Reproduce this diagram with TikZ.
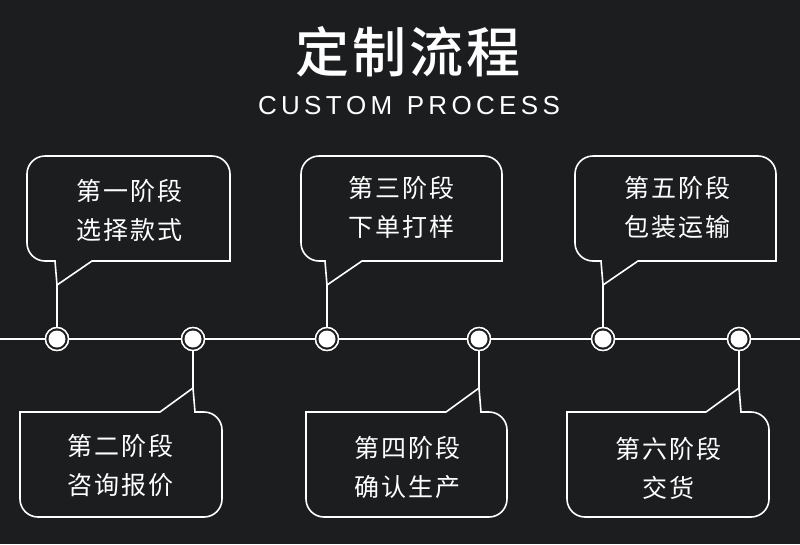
\documentclass[tikz,border=0pt]{standalone}
\usepackage{fontspec}
\setmainfont{Liberation Sans}
\newfontfamily\cjk{Noto Sans CJK SC}
\newfontfamily\cjkb{Noto Sans CJK SC Medium}
\definecolor{bg}{HTML}{1C1D1F}
\tikzset{ln/.style={draw=white,line width=1.6pt},
 lab/.style={text=white,font=\cjk\fontsize{25}{25}\selectfont,align=center},
 dot/.style={circle,draw=white,line width=1.4pt,fill=bg,minimum size=23pt,inner sep=0pt,
   path picture={\fill[white](path picture bounding box.center) circle (8.5pt);}}}
\newcommand{\topcall}[4]{%
 \draw[ln] (#1,285) -- (#1+35,261) -- (#3,261) [rounded corners=18pt] -- (#3,156) -- (#2,156) -- (#2,261) [sharp corners]-- (#1-2,261) -- (#1,285) -- (#4);}
\newcommand{\botcall}[4]{%
 \draw[ln] (#1,388) -- (#1-33,412) -- (#2,412) [rounded corners=18pt] -- (#2,517) -- (#3,517) -- (#3,412) [sharp corners]-- (#1+2,412) -- (#1,388) -- (#4);}
\begin{document}
\begin{tikzpicture}[x=1pt,y=-1pt]
\fill[bg] (0,0) rectangle (800,544);
\useasboundingbox (0,0) rectangle (800,544);
\node[text=white,font=\cjkb\fontsize{54}{54}\selectfont] (title) at (408,52) {定\hspace{3pt}制\hspace{3pt}流\hspace{3pt}程};
\node[text=white,font=\fontsize{26}{26}\selectfont] (sub) at (409,106) {C\,U\,S\,T\,O\,M\ \ P\,R\,O\,C\,E\,S\,S};
\draw[ln] (0,339) -- (800,339);
\node[dot] (c1) at (57,339) {};
\node[dot] (c2) at (193,339) {};
\node[dot] (c3) at (327,339) {};
\node[dot] (c4) at (479,339) {};
\node[dot] (c5) at (603,339) {};
\node[dot] (c6) at (739,339) {};
\topcall{57}{27}{230}{c1}
\topcall{327}{301}{502}{c3}
\topcall{603}{575}{776}{c5}
\botcall{193}{20}{222}{c2}
\botcall{479}{306}{507}{c4}
\botcall{739}{567}{769}{c6}
\node[dot] at (57,339) {};\node[dot] at (193,339) {};\node[dot] at (327,339) {};
\node[dot] at (479,339) {};\node[dot] at (603,339) {};\node[dot] at (739,339) {};
\node[lab] (t1) at (129,210) {第\hspace{2pt}一\hspace{2pt}阶\hspace{2pt}段\\[14pt]选\hspace{2pt}择\hspace{2pt}款\hspace{2pt}式};
\node[lab] (t3) at (401,207) {第\hspace{2pt}三\hspace{2pt}阶\hspace{2pt}段\\[14pt]下\hspace{2pt}单\hspace{2pt}打\hspace{2pt}样};
\node[lab] (t5) at (677,207) {第\hspace{2pt}五\hspace{2pt}阶\hspace{2pt}段\\[14pt]包\hspace{2pt}装\hspace{2pt}运\hspace{2pt}输};
\node[lab] (t2) at (120,466) {第\hspace{2pt}二\hspace{2pt}阶\hspace{2pt}段\\[14pt]咨\hspace{2pt}询\hspace{2pt}报\hspace{2pt}价};
\node[lab] (t4) at (407,468) {第\hspace{2pt}四\hspace{2pt}阶\hspace{2pt}段\\[14pt]确\hspace{2pt}认\hspace{2pt}生\hspace{2pt}产};
\node[lab] (t6) at (668,468) {第\hspace{2pt}六\hspace{2pt}阶\hspace{2pt}段\\[14pt]交\hspace{2pt}货};
\end{tikzpicture}
\end{document}
